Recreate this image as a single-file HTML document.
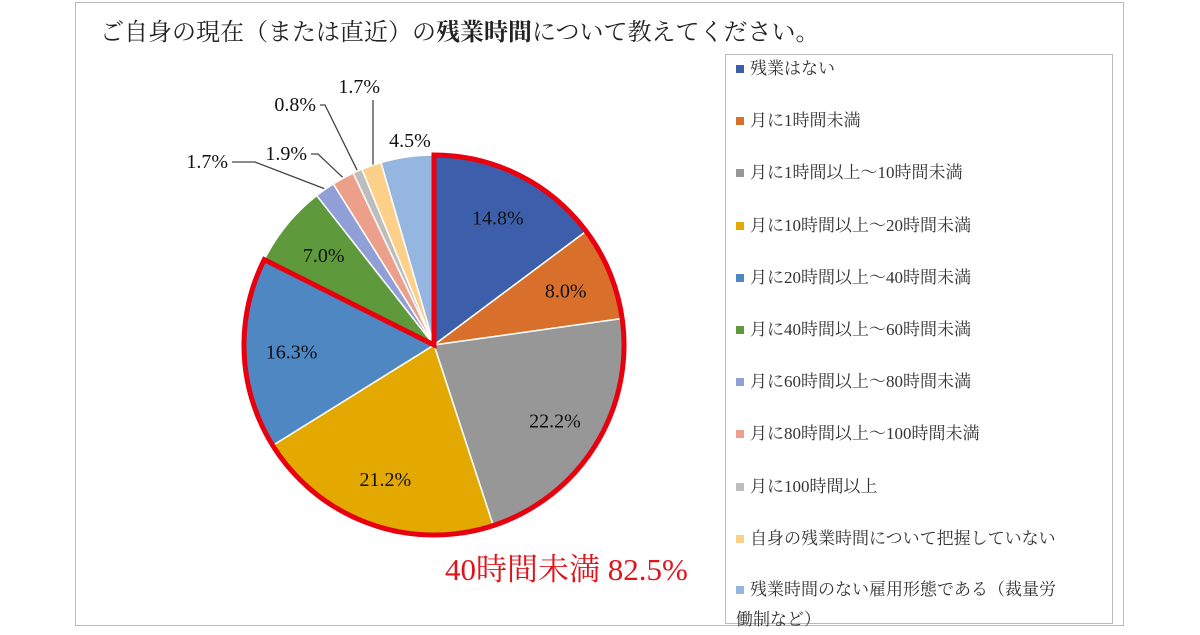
<!DOCTYPE html>
<html><head><meta charset="utf-8"><style>
body{margin:0;width:1200px;height:630px;background:#fff;overflow:hidden;font-family:"Liberation Serif","Noto Serif CJK JP",serif}
#frame{position:absolute;left:75px;top:2px;width:1049px;height:624px;border:1px solid #bbb;box-sizing:border-box}
#title{position:absolute;left:100px;top:12px;font-size:24px;color:#222;white-space:nowrap}
#legend{position:absolute;left:725px;top:54px;width:388px;height:570px;border:1px solid #bbb;box-sizing:border-box}
.li{position:absolute;left:10px;font-size:17px;color:#333;white-space:nowrap;line-height:22px}
.sw{display:inline-block;width:8px;height:8px;margin-right:6px;vertical-align:1px}
</style></head><body>
<div id="frame"></div>
<div id="title">ご自身の現在（または直近）の<b>残業時間</b>について教えてください。</div>
<svg id="pie" width="1200" height="630" style="position:absolute;left:0;top:0"></svg>
<div id="legend"></div>
<script>
const categories=["残業はない","月に1時間未満","月に1時間以上～10時間未満","月に10時間以上～20時間未満","月に20時間以上～40時間未満","月に40時間以上～60時間未満","月に60時間以上～80時間未満","月に80時間以上～100時間未満","月に100時間以上","自身の残業時間について把握していない","残業時間のない雇用形態である（裁量労働制など）"];
const values=[14.8,8.0,22.2,21.2,16.3,7.0,1.7,1.9,0.8,1.7,4.5];
const colors=["#3d5fab","#d8702c","#979797","#e3a900","#4f87c3","#5e9a3b","#909fd6","#eca08b","#bdbdbd","#fcd089","#96b6e2"];
const highlightCount=5;
const highlightText="40時間未満 82.5%";
const NS="http://www.w3.org/2000/svg";
const svg=document.getElementById('pie');
const cx=434,cy=345,r=190;
const total=values.reduce((a,b)=>a+b,0);
function ang(v){return v/total*2*Math.PI;}
function pt(a,rr){return [cx+rr*Math.sin(a),cy-rr*Math.cos(a)];}
function arcPath(a0,a1,rr){const p0=pt(a0,rr),p1=pt(a1,rr);const lg=(a1-a0)>Math.PI?1:0;return `M${cx},${cy}L${p0[0]},${p0[1]}A${rr},${rr} 0 ${lg} 1 ${p1[0]},${p1[1]}Z`;}
// outside label layout: [textEndX, baselineY, elbowX, type]
const outside={6:[228,168,255,'h'],7:[307,160,318,'h'],8:[316,111,325,'h'],9:[380,93,373,'v'],10:[410,147,0,'n']};
let acc=0;
values.forEach((v,i)=>{
  const a0=ang(acc),a1=ang(acc+v);acc+=v;
  const p=document.createElementNS(NS,'path');
  p.setAttribute('d',arcPath(a0,a1,r));p.setAttribute('fill',colors[i]);p.setAttribute('stroke','#fff');p.setAttribute('stroke-width','1.5');
  
  
  svg.appendChild(p);
  const mid=(a0+a1)/2;
  const t=document.createElementNS(NS,'text');
  t.setAttribute('font-size','20');t.setAttribute('fill','#111');t.setAttribute('font-family','Liberation Serif, serif');
  t.textContent=v.toFixed(1)+'%';
  const o=outside[i];
  if(o){
    t.setAttribute('y',o[1]);
    if(o[3]==='n'){t.setAttribute('x',o[0]);t.setAttribute('text-anchor','middle');}
    else {t.setAttribute('x',o[0]);t.setAttribute('text-anchor','end');}
    if(o[3]!=='n'){
      const e=pt(mid,r+1);const ln=document.createElementNS(NS,'polyline');
      ln.setAttribute('points',o[3]==='v'?`${o[2]},${o[1]+7} ${o[2]},${e[1]}`:`${o[0]+4},${o[1]-6} ${o[2]},${o[1]-6} ${e[0]},${e[1]}`);
      ln.setAttribute('fill','none');ln.setAttribute('stroke','#444');ln.setAttribute('stroke-width','1.3');
      
      
      svg.appendChild(ln);
    }
  } else {
    const q=pt(mid,r*0.75);t.setAttribute('x',q[0]);t.setAttribute('y',q[1]+7);t.setAttribute('text-anchor','middle');
  }
  
  
  svg.appendChild(t);
});
let hs=0;for(let i=0;i<highlightCount;i++)hs+=values[i];
const hl=document.createElementNS(NS,'path');
hl.setAttribute('d',arcPath(0,ang(hs),r));hl.setAttribute('fill','none');hl.setAttribute('stroke','#e8000e');hl.setAttribute('stroke-width','5');hl.setAttribute('stroke-linejoin','miter');


svg.appendChild(hl);
const ht=document.createElementNS(NS,'text');
ht.setAttribute('x',445);ht.setAttribute('y',580);ht.setAttribute('font-size','31');ht.setAttribute('fill','#e0121a');
ht.setAttribute('font-family','Liberation Serif, Noto Serif CJK JP, serif');ht.textContent=highlightText;


svg.appendChild(ht);
const lg=document.getElementById('legend');
categories.forEach((c,i)=>{
  const d=document.createElement('div');d.className='li';d.style.top=(3+i*52.2)+'px';
  if(i==10){d.style.whiteSpace='normal';d.style.width='330px';d.style.lineHeight='30px';d.style.top=(i*52.2-2)+'px';}
  d.innerHTML=`<span class="sw" style="background:${colors[i]}"></span>`+c;
  
  
  lg.appendChild(d);
});
</script>
</body></html>
